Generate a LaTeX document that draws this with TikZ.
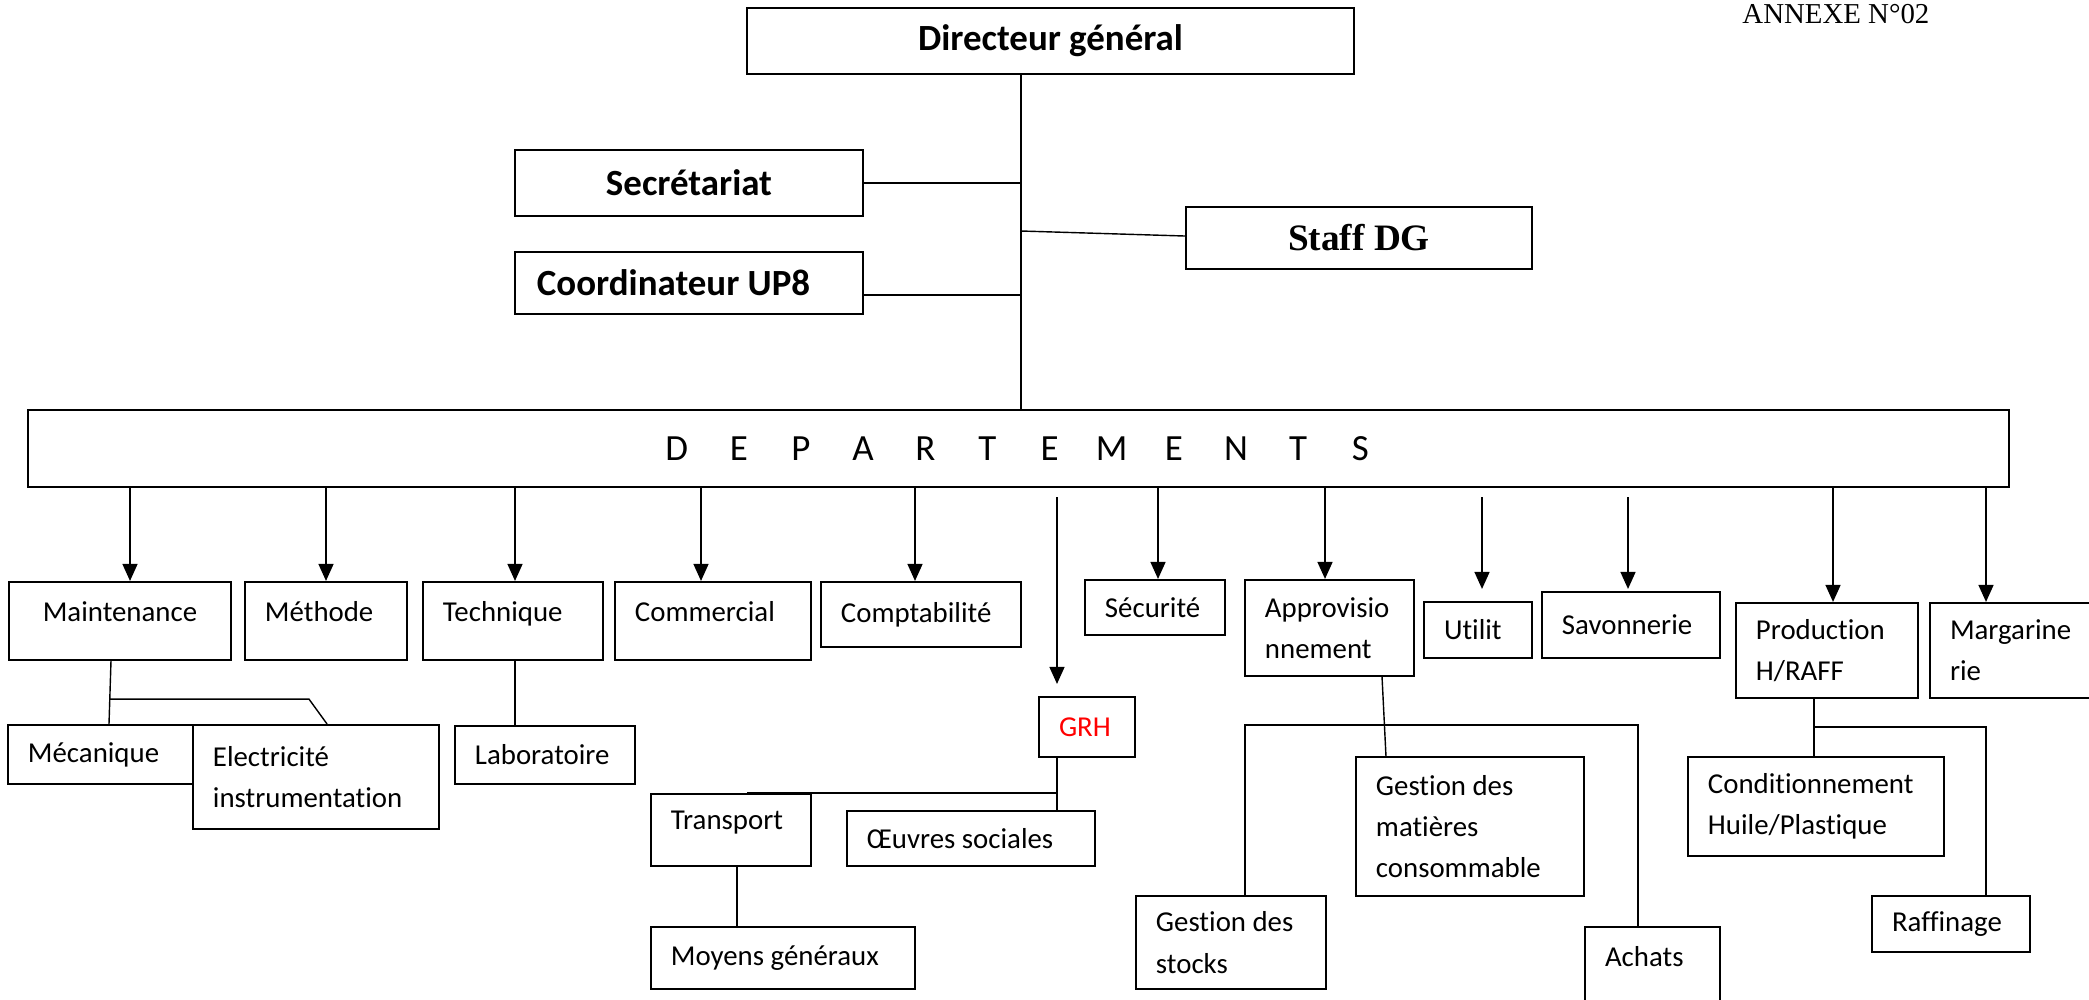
\documentclass[tikz,border=0pt]{standalone}
\usepackage{fontspec}
\setmainfont{Carlito}[Ligatures=NoCommon]
\newfontfamily\annexfont{Liberation Serif}
\usetikzlibrary{arrows.meta}

\tikzset{
  box/.style={draw, line width=0.6pt, rectangle, inner sep=0pt},
  topbox/.style={box, font=\fontsize{10.5}{12.6}\selectfont\bfseries},
  orgbox/.style={box, inner xsep=0.2cm, inner ysep=0.05cm, align=flush left, font=\fontsize{8.2}{11.7}\selectfont},
  lift/.style={text depth=0.19cm},
  wire/.style={line width=0.4pt},
  arr/.style={line width=0.4pt, -{Triangle[width=0.15cm,length=0.17cm]}},
}

\begin{document}
\begin{tikzpicture}[x=0.01cm,y=-0.01cm]
\useasboundingbox (0,0) rectangle (2089,999);

% direction
\draw
(1050.5,41) node[topbox, minimum width=6.07cm, minimum height=0.66cm] (dg) {Directeur général}
(689,183) node[topbox, minimum width=3.48cm, minimum height=0.66cm] (secr) {Secrétariat}
(689,283) node[topbox, minimum height=0.62cm, inner xsep=0.22cm, text width=3.04cm, align=flush left] (coord) {Coordinateur UP8}
(1359,238) node[topbox, minimum width=3.46cm, minimum height=0.62cm, font=\fontsize{10.6}{12}\selectfont\annexfont\bfseries] (staff) {Staff DG};

\node[anchor=base west, font=\fontsize{8.2}{10}\selectfont\annexfont] (annexe) at (1730,23) {ANNEXE N°02};

% departements
\draw (1018.5,448.5) node[box, minimum width=19.79cm, minimum height=0.77cm, font=\fontsize{10.5}{12.6}\selectfont] (dep)
  {\foreach \l in {D,E,P,A,R,T,E,M,E,N,T,S}{\makebox[0.621cm]{\l}}};

% first level
\draw
(120,621) node[orgbox, lift, text width=1.82cm, align=flush center, minimum height=0.78cm] (maint) {Maintenance}
(326,621) node[orgbox, lift, text width=1.22cm, minimum height=0.78cm] (meth) {Méthode}
(513,621) node[orgbox, lift, text width=1.40cm, minimum height=0.78cm] (tech) {Technique}
(713,621) node[orgbox, lift, text width=1.56cm, minimum height=0.78cm] (comm) {Commercial}
(921,614.5) node[orgbox, text width=1.60cm, minimum height=0.65cm] (compta) {Comptabilité}
(1155,607.5) node[orgbox, text width=1.00cm, minimum height=0.55cm] (secu) {Sécurité}
(1329.5,628) node[orgbox, text width=1.29cm, minimum height=0.96cm] (appro) {Approvisio\\nnement}
(1478,630) node[orgbox, text width=0.68cm, minimum height=0.56cm] (util) {Utilit}
(1631,625) node[orgbox, text width=1.38cm, minimum height=0.66cm] (savon) {Savonnerie}
(1827,650.5) node[orgbox, text width=1.42cm, minimum height=0.95cm] (prod) {Production\\H/RAFF}
(2012.5,650.5) node[orgbox, text width=1.25cm, minimum height=0.95cm] (marg) {Margarine\\rie}
(1087,727) node[orgbox, text width=0.56cm, minimum height=0.60cm, text=red] (grh) {GRH};

% second level
\draw
(100.5,754.5) node[orgbox, text width=1.45cm, minimum height=0.59cm] (meca) {Mécanique}
(316,777) node[orgbox, text width=2.06cm, minimum height=1.04cm] (elec) {Electricité\\instrumentation}
(545,755) node[orgbox, text width=1.40cm, minimum height=0.58cm] (labo) {Laboratoire}
(731,830) node[orgbox, lift, text width=1.20cm, minimum height=0.72cm] (transp) {Transport}
(971,838.5) node[orgbox, text width=2.08cm, minimum height=0.55cm] (oeuvres) {Œuvres sociales}
(783,958) node[orgbox, text width=2.24cm, minimum height=0.62cm] (moyens) {Moyens généraux}
(1470,826.5) node[orgbox, text width=1.88cm, minimum height=1.39cm] (gestmat) {Gestion des\\matières\\consommable}
(1231,942.5) node[orgbox, text width=1.50cm, minimum height=0.93cm] (stocks) {Gestion des\\stocks}
(1652.5,966) node[orgbox, lift, text width=0.95cm, minimum height=0.78cm] (achats) {Achats}
(1816,806.5) node[orgbox, text width=2.16cm, minimum height=0.99cm] (cond) {Conditionnement\\Huile/Plastique}
(1951,924) node[orgbox, text width=1.18cm, minimum height=0.56cm] (raff) {Raffinage};

% links of the direction
\coordinate (spine) at ([xshift=-0.295cm]dg.south);
\draw[wire] (spine) -- (spine |- dep.north);
\draw[wire] (secr.east) -- (spine |- secr.east);
\draw[wire] ([yshift=-0.12cm]coord.east) -- ([yshift=-0.12cm]coord.east -| spine);
\draw[wire] ([yshift=0.07cm]spine |- staff.west) -- ([yshift=0.02cm]staff.west);

% arrows to the departments
\foreach \bx/\sh in {maint/0.1, meth/0, tech/0.02, comm/-0.12, compta/-0.06, secu/0.03, appro/-0.045, prod/0.06, marg/-0.265}
  \draw[arr] ([xshift=\sh cm]\bx.north |- dep.south) -- ([xshift=\sh cm]\bx.north);
\foreach \bx/\sh/\gap in {util/0.04/0.12, savon/-0.03/0.02, grh/-0.3/0.12}
  \draw[arr] ([xshift=\sh cm, yshift=-0.09cm]\bx.north |- dep.south) -- ([xshift=\sh cm, yshift=\gap cm]\bx.north);

% services
\draw[wire] ([xshift=-0.09cm]maint.south) -- ([xshift=0.085cm]meca.north);
\draw[wire] ([xshift=-0.1cm, yshift=-0.38cm]maint.south) -- ++(199,0) -- ([xshift=0.11cm]elec.north);
\draw[wire] ([xshift=0.02cm]tech.south) -- ([xshift=0.02cm]tech.south |- labo.north);
\draw[wire] ([xshift=-0.3cm]grh.south) -- ([xshift=-0.3cm]grh.south |- oeuvres.north);
\draw[wire] ([xshift=-0.3cm]grh.south |- transp.north) -- ([xshift=0.16cm]transp.north);
\draw[wire] ([xshift=0.06cm]transp.south) -- ([xshift=0.06cm]transp.south |- moyens.north);
\draw[wire] ([xshift=0.525cm]appro.south) -- ([xshift=-0.84cm]gestmat.north);
\draw[wire] ([xshift=0.14cm]stocks.north) -- ++(0,-170) -| ([xshift=-0.145cm]achats.north);
\draw[wire] ([xshift=-0.13cm]prod.south) -- ([xshift=-0.13cm]prod.south |- cond.north);
\draw[wire] ([xshift=-0.13cm, yshift=-0.28cm]prod.south) -| ([xshift=0.35cm]raff.north);

\end{tikzpicture}
\end{document}
